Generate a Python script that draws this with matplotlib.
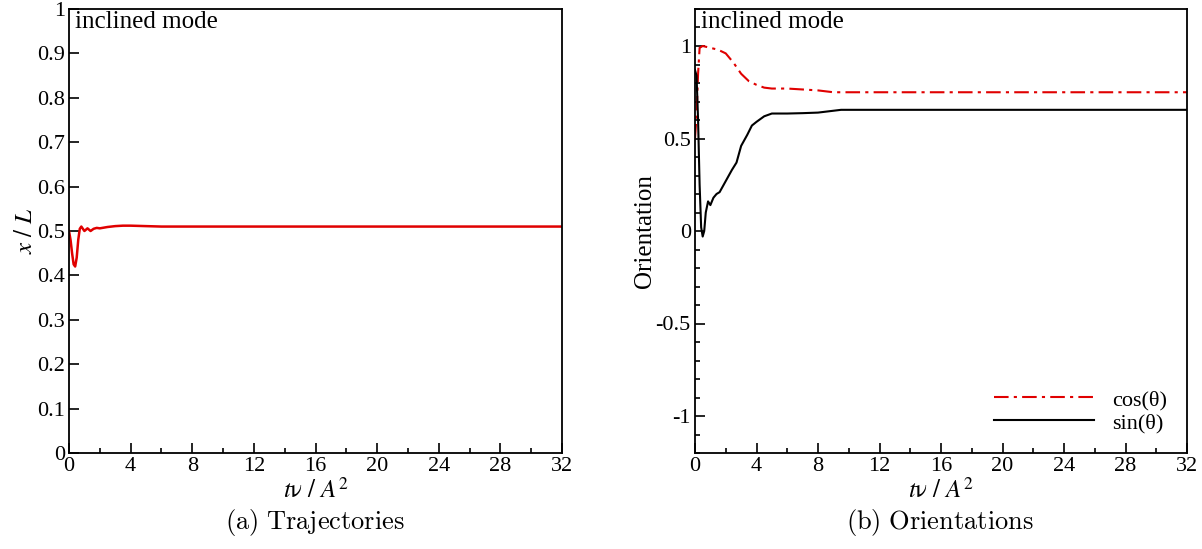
import matplotlib.pyplot as plt
from matplotlib.ticker import MultipleLocator

plt.rcParams['font.family'] = ['Liberation Serif', 'DejaVu Serif']
plt.rcParams['mathtext.fontset'] = 'stix'

# trajectory x/L
t_traj = [0, 0.1, 0.2, 0.3, 0.4, 0.5, 0.6, 0.7, 0.8, 0.9, 1.0, 1.2, 1.4, 1.6, 1.8,
          2.0, 2.5, 3.0, 3.5, 4.0, 5.0, 6.0, 8.0, 10, 12, 16, 20, 24, 28, 32]
x_traj = [0.50, 0.48, 0.45, 0.425, 0.42, 0.44, 0.48, 0.505, 0.51, 0.505, 0.50, 0.506,
          0.50, 0.505, 0.507, 0.506, 0.509, 0.511, 0.512, 0.512, 0.511, 0.51, 0.51,
          0.51, 0.51, 0.51, 0.51, 0.51, 0.51, 0.51]

# orientations
t_cos = [0, 0.1, 0.2, 0.3, 0.5, 1.0, 1.5, 2.0, 2.5, 3.0, 3.5, 4.0, 4.5, 5.0, 6.0,
         7.0, 8.0, 9.0, 10, 12, 16, 20, 24, 28, 32]
cos_v = [0.5, 0.62, 0.85, 0.99, 1.0, 0.99, 0.98, 0.96, 0.91, 0.85, 0.81, 0.79, 0.775,
         0.77, 0.77, 0.765, 0.76, 0.75, 0.75, 0.75, 0.75, 0.75, 0.75, 0.75, 0.75]
t_sin = [0, 0.1, 0.2, 0.3, 0.4, 0.5, 0.6, 0.7, 0.85, 1.0, 1.2, 1.4, 1.6, 1.8, 2.0,
         2.4, 2.7, 3.0, 3.4, 3.7, 4.0, 4.5, 5.0, 6.0, 7.0, 8.0, 9.0, 9.5, 12, 16, 20,
         24, 28, 32]
sin_v = [0.87, 0.84, 0.6, 0.25, 0.02, -0.03, 0.0, 0.1, 0.16, 0.14, 0.18, 0.2, 0.21,
         0.24, 0.27, 0.33, 0.37, 0.46, 0.52, 0.57, 0.59, 0.62, 0.635, 0.635, 0.637,
         0.64, 0.65, 0.655, 0.655, 0.655, 0.655, 0.655, 0.655, 0.655]

x_ticks = list(range(0, 33, 4))

fig = plt.figure(figsize=(12.02, 5.49), dpi=100)
W, H = 1202, 549
ax1 = fig.add_axes([69 / W, 1 - 453 / H, (562 - 69) / W, (453 - 9) / H])
ax2 = fig.add_axes([695 / W, 1 - 453 / H, (1187 - 695) / W, (453 - 9) / H])

for ax in (ax1, ax2):
    ax.set_xlim(0, 32)
    ax.set_xticks(x_ticks)
    ax.xaxis.set_minor_locator(MultipleLocator(2))
    ax.tick_params(which='both', direction='in', labelsize=16, width=1.2)
    ax.tick_params(which='major', length=7)
    ax.tick_params(which='minor', length=3.5)
    ax.tick_params(axis='x', pad=3)
    ax.tick_params(axis='y', pad=3)
    for s in ax.spines.values():
        s.set_linewidth(1.3)
    ax.set_xlabel(r'$t\mathrm{\nu}\ /\ A^2$', fontsize=18, labelpad=1)
    ax.text(0.012, 0.995, 'inclined mode', transform=ax.transAxes, fontsize=18,
            ha='left', va='top')

ax1.plot(t_traj, x_traj, color='#e00000', lw=1.8)
ax1.set_ylim(0, 1)
ax1.set_yticks([i / 10 for i in range(11)])
ax1.set_yticklabels(['0', '0.1', '0.2', '0.3', '0.4', '0.5', '0.6', '0.7', '0.8', '0.9', '1'])
ax1.set_ylabel(r'$x\ /\ L$', fontsize=18, labelpad=0)

ax2.plot(t_cos, cos_v, color='#e00000', lw=1.5, ls=(0, (7, 2.5, 1.5, 2.5)), label='cos(θ)')
ax2.plot(t_sin, sin_v, color='black', lw=1.5, label='sin(θ)')
ax2.set_ylim(-1.2, 1.2)
ax2.set_yticks([-1, -0.5, 0, 0.5, 1])
ax2.set_yticklabels(['-1', '-0.5', '0', '0.5', '1'])
ax2.yaxis.set_minor_locator(MultipleLocator(0.1))
ax2.set_ylabel('Orientation', fontsize=18, labelpad=0)
ax2.legend(loc='lower right', frameon=False, fontsize=16, handlelength=4.5,
           handletextpad=0.8, borderaxespad=0.5, labelspacing=0.1)

fig.text(315 / W, 1 - 522 / H, r'$\mathrm{(a)\ Trajectories}$', fontsize=19,
         ha='center', va='center', math_fontfamily='cm')
fig.text(940 / W, 1 - 522 / H, r'$\mathrm{(b)\ Orientations}$', fontsize=19,
         ha='center', va='center', math_fontfamily='cm')

fig.savefig('out.png', dpi=100)
